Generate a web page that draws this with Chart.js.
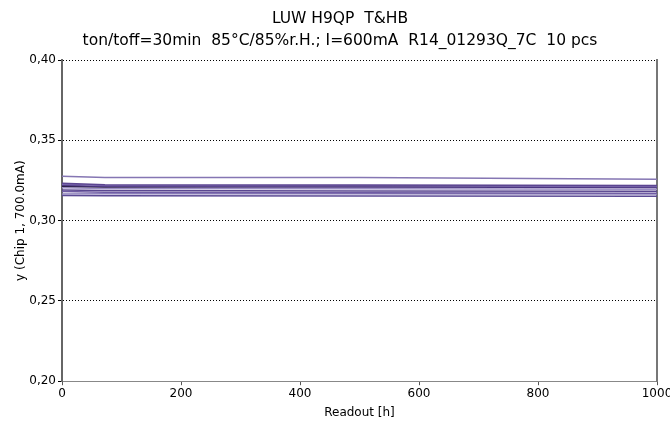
<!DOCTYPE html>
<html>
<head>
<meta charset="utf-8">
<script src="https://cdn.jsdelivr.net/npm/chart.js@4"></script>
<style>
  html, body { margin: 0; padding: 0; background: #fff; }
  #wrap { width: 670px; height: 424px; }
</style>
</head>
<body>
<div id="wrap"><canvas id="degChart" width="670" height="424"></canvas></div>
<script>
// readout times [h]
const readouts = [0, 72, 500, 1000];

// chromaticity y per sample (10 pcs)
const s1  = [0.3276, 0.3268, 0.3268, 0.3258];
const s2  = [0.3233, 0.3223, 0.3222, 0.3218];
const s3  = [0.3226, 0.3218, 0.3217, 0.3212];
const s4  = [0.3220, 0.3212, 0.3210, 0.3206];
const s5  = [0.3214, 0.3209, 0.3212, 0.3214];
const s6  = [0.3205, 0.3200, 0.3198, 0.3195];
const s7  = [0.3190, 0.3187, 0.3185, 0.3183];
const s8  = [0.3181, 0.3176, 0.3173, 0.3170];
const s9  = [0.3166, 0.3168, 0.3167, 0.3165];
const s10 = [0.3157, 0.3155, 0.3154, 0.3152];

const series = [s1, s2, s3, s4, s5, s6, s7, s8, s9, s10];
const lineColors = ['#8576b3', '#5c4591', '#7a68ad', '#4b3580', '#2a2040',
                    '#9a8dc4', '#5a4790', '#6f5ca3', '#8c7fbb', '#5b4a94'];

const yTicks = [0.20, 0.25, 0.30, 0.35, 0.40];
const xTicks = [0, 200, 400, 600, 800, 1000];

const fontFam = 'DejaVu Sans, Verdana, sans-serif';

const datasets = series.map((vals, i) => ({
  label: 'pc ' + (i + 1),
  data: readouts.map((t, j) => ({ x: t, y: vals[j] })),
  borderColor: lineColors[i],
  borderWidth: 1.5,
  pointRadius: 0,
  tension: 0,
  fill: false
}));

const ctx = document.getElementById('degChart').getContext('2d');
new Chart(ctx, {
  type: 'line',
  data: { datasets: datasets },
  options: {
    responsive: false,
    animation: false,
    layout: { padding: { left: 10, right: 0, top: 0, bottom: 4 } },
    plugins: {
      legend: { display: false },
      tooltip: { enabled: false },
      title: {
        display: true,
        text: ['LUW H9QP  T&HB', 'ton/toff=30min  85°C/85%r.H.; I=600mA  R14_01293Q_7C  10 pcs'],
        color: '#000',
        font: { family: fontFam, size: 15.5, weight: 'normal', lineHeight: 1.42 },
        padding: { top: 8, bottom: 8 }
      }
    },
    scales: {
      x: {
        type: 'linear',
        min: 0,
        max: 1000,
        afterBuildTicks: s => { s.ticks = xTicks.map(v => ({ value: v })); },
        afterFit: s => { s.paddingRight = 13; },
        ticks: { color: '#000', font: { family: fontFam, size: 12 }, padding: 1, maxRotation: 0, callback: v => String(v) },
        grid: { drawOnChartArea: false, drawTicks: true, tickLength: 4, color: '#555' },
        border: { color: '#888', width: 1 },
        title: { display: true, text: 'Readout [h]', color: '#000', font: { family: fontFam, size: 12 }, padding: { top: 4, bottom: 0 } }
      },
      y: {
        min: 0.20,
        max: 0.40,
        afterBuildTicks: s => { s.ticks = yTicks.map(v => ({ value: v })); },
        afterFit: s => { s.width = 52; },
        ticks: {
          color: '#000',
          font: { family: fontFam, size: 12 },
          padding: 2,
          callback: v => v.toFixed(2).replace('.', ',')
        },
        grid: { color: '#000', lineWidth: 1, tickLength: 4 },
        border: { color: '#666', width: 2, dash: [1, 2] },
        title: { display: true, text: 'y (Chip 1, 700.0mA)', color: '#000', font: { family: fontFam, size: 12 }, padding: { bottom: 4 } }
      },
      yRight: {
        position: 'right',
        min: 0.20,
        max: 0.40,
        ticks: { display: false },
        grid: { display: false },
        border: { color: '#777', width: 2 },
        afterFit: s => { s.width = 0; }
      }
    }
  }
});
</script>
</body>
</html>
